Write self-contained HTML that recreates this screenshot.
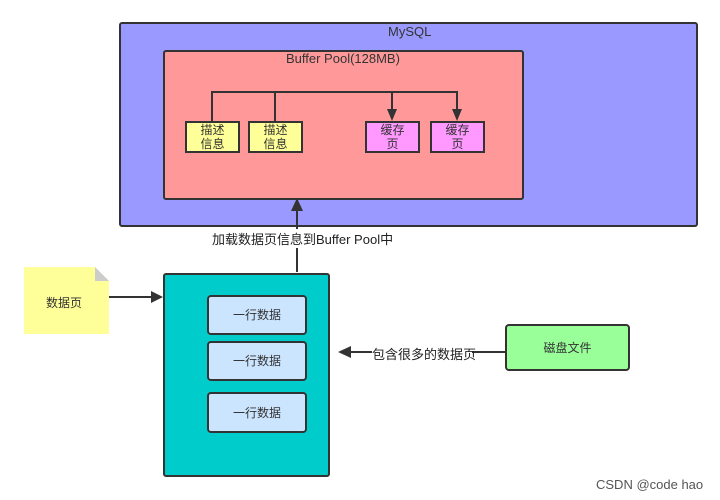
<!DOCTYPE html>
<html><head><meta charset="utf-8"><style>
body{margin:0;width:720px;height:500px;background:#fff;position:relative;overflow:hidden;font-family:"Liberation Sans","Noto Sans CJK SC",sans-serif;}
.a{position:absolute;box-sizing:border-box;}
.t{position:absolute;font-size:12px;white-space:nowrap;}
.cbox{border:2px solid #333;display:flex;align-items:center;justify-content:center;text-align:center;font-size:12px;line-height:14px;color:#333;}
</style></head><body>
<div class="a" style="left:119px;top:22px;width:579px;height:205px;background:#9999ff;border:2px solid #333;border-radius:3px"></div>
<div class="t" style="left:388px;top:24px;color:#333;font-size:13px">MySQL</div>
<div class="a" style="left:163px;top:50px;width:361px;height:150px;background:#ff9999;border:2px solid #333;border-radius:3px"></div>
<div class="t" style="left:286px;top:51px;color:#333;font-size:13px">Buffer Pool(128MB)</div>
<div class="a cbox" style="left:185px;top:121px;width:55px;height:32px;background:#ffff99">描述<br>信息</div>
<div class="a cbox" style="left:248px;top:121px;width:55px;height:32px;background:#ffff99">描述<br>信息</div>
<div class="a cbox" style="left:365px;top:121px;width:55px;height:32px;background:#ff99ff">缓存<br>页</div>
<div class="a cbox" style="left:430px;top:121px;width:55px;height:32px;background:#ff99ff">缓存<br>页</div>
<div class="a" style="left:163px;top:273px;width:167px;height:204px;background:#00cccc;border:2px solid #333;border-radius:3px"></div>
<div class="a cbox" style="left:207px;top:295px;width:100px;height:40px;background:#cce5ff;border-radius:4px">一行数据</div>
<div class="a cbox" style="left:207px;top:341px;width:100px;height:40px;background:#cce5ff;border-radius:4px">一行数据</div>
<div class="a cbox" style="left:207px;top:392px;width:100px;height:41px;background:#cce5ff;border-radius:4px">一行数据</div>
<div class="a cbox" style="left:505px;top:324px;width:125px;height:47px;background:#99ff99;border-radius:4px">磁盘文件</div>
<svg class="a" style="left:0;top:0" width="720" height="500">
<polygon points="24,267 95,267 109,281 109,334 24,334" fill="#ffff99"/>
<polygon points="95,267 109,281 95,281" fill="#ccc"/>
<g stroke="#333" stroke-width="2" fill="none">
<path d="M212,121V92H457V110M275,121V92M392,92V110"/>
<path d="M297,272V210"/>
<path d="M109,297H152"/>
<path d="M505,352H472M372,352H350"/>
</g>
<g fill="#333">
<polygon points="387,109 397,109 392,121"/>
<polygon points="452,109 462,109 457,121"/>
<polygon points="291,211 303,211 297,198"/>
<polygon points="151,291 151,303 163,297"/>
<polygon points="351,346 351,358 338,352"/>
</g>
</svg>
<div class="t" style="left:212px;top:229px;color:#222;background:#fff;font-size:13px">加载数据页信息到Buffer Pool中</div>
<div class="t" style="left:372px;top:344px;color:#222;font-size:13px">包含很多的数据页</div>
<div class="t" style="left:46px;top:294px;color:#333">数据页</div>
<div class="t" style="left:596px;top:477px;color:#555;font-size:13px">CSDN @code hao</div>
</body></html>
